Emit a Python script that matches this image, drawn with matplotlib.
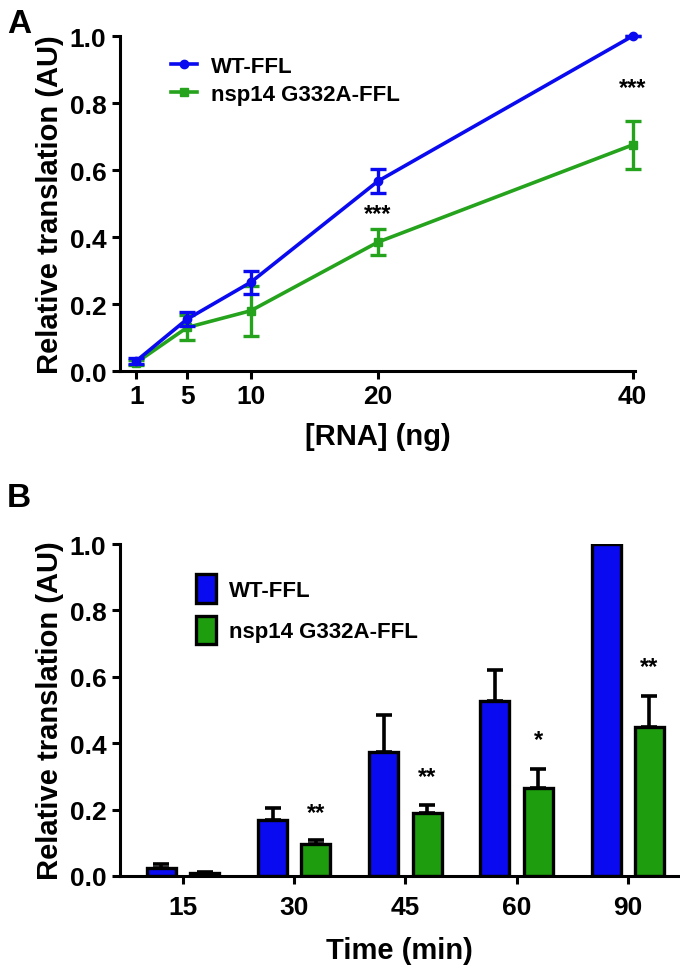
import numpy as np
import matplotlib
matplotlib.use("Agg")
import matplotlib.pyplot as plt
from matplotlib.patches import Patch
from matplotlib.lines import Line2D

plt.rcParams['font.family'] = ['Liberation Sans', 'DejaVu Sans']
plt.rcParams['font.weight'] = 'bold'

# Panel A data
rna_ng = [1, 5, 10, 20, 40]
wt_a = [0.03, 0.155, 0.265, 0.567, 1.0]
wt_a_err = [0.008, 0.02, 0.035, 0.036, 0.0]
mut_a = [0.025, 0.13, 0.18, 0.385, 0.675]
mut_a_err = [0.008, 0.038, 0.075, 0.04, 0.072]
stars_a = {20: (0.47, '***'), 40: (0.845, '***')}

# Panel B data
times = ['15', '30', '45', '60', '90']
wt_b = [0.025, 0.17, 0.372, 0.528, 1.0]
wt_b_err = [0.01, 0.035, 0.113, 0.092, 0.0]
mut_b = [0.01, 0.097, 0.19, 0.265, 0.45]
mut_b_err = [0.003, 0.01, 0.025, 0.057, 0.091]
stars_b = ['', '**', '**', '*', '**']
stars_b_y = [0, 0.19, 0.30, 0.41, 0.63]

blue = '#0a0af0'
green = '#25a31c'
bar_green = '#1e9e0e'

fig = plt.figure(figsize=(6.8, 9.78), dpi=100)

def style(ax):
    for s in ['top', 'right']:
        ax.spines[s].set_visible(False)
    for s in ['left', 'bottom']:
        ax.spines[s].set_linewidth(2.2)
    ax.tick_params(width=2.2, length=6, labelsize=19, direction='out')
    for lab in ax.get_xticklabels() + ax.get_yticklabels():
        lab.set_fontweight('bold')

# ---- A ----
axA = fig.add_axes([0.176, 0.6196, 0.758, 0.3425])
axA.errorbar(rna_ng, wt_a, yerr=wt_a_err, color=blue, lw=2.6, marker='o', ms=6,
             capsize=6, capthick=2.4, elinewidth=2.4, clip_on=False, zorder=3,
             label='WT-FFL')
axA.errorbar(rna_ng, mut_a, yerr=mut_a_err, color=green, lw=2.6, marker='s', ms=6,
             capsize=6, capthick=2.4, elinewidth=2.4, clip_on=False, zorder=2,
             label='nsp14 G332A-FFL')
for x, (y, s) in stars_a.items():
    axA.text(x, y, s, ha='center', va='center', fontsize=17, fontweight='bold')
axA.set_xlim(-0.3, 40.2)
axA.set_ylim(0, 1.0)
axA.set_xticks(rna_ng)
axA.set_yticks([0.0, 0.2, 0.4, 0.6, 0.8, 1.0])
axA.set_yticklabels(['0.0', '0.2', '0.4', '0.6', '0.8', '1.0'])
axA.set_xlabel('[RNA] (ng)', fontsize=21, fontweight='bold', labelpad=10)
axA.set_ylabel('Relative translation (AU)', fontsize=21, fontweight='bold', labelpad=4)
style(axA)
handlesA = [Line2D([0], [0], color=blue, lw=2.6, marker='o', ms=6),
            Line2D([0], [0], color=green, lw=2.6, marker='s', ms=6)]
axA.legend(handlesA, ['WT-FFL', 'nsp14 G332A-FFL'], loc='upper left',
           bbox_to_anchor=(0.06, 1.0), frameon=False, handlelength=1.2,
           handletextpad=0.6, labelspacing=0.3, prop={'size': 16, 'weight': 'bold'})
fig.text(0.01, 0.975, 'A', fontsize=24, fontweight='bold', va='center')

# ---- B ----
axB = fig.add_axes([0.176, 0.1033, 0.824, 0.3394])
x = np.arange(len(times))
off, w = 0.195, 0.26
axB.bar(x - off, wt_b, w, yerr=[np.zeros(len(wt_b)), wt_b_err], color=blue,
        edgecolor='black', linewidth=2.4, capsize=6,
        error_kw={'elinewidth': 2.6, 'capthick': 2.6, 'ecolor': 'black'}, zorder=2)
axB.bar(x + off, mut_b, w, yerr=[np.zeros(len(mut_b)), mut_b_err], color=bar_green,
        edgecolor='black', linewidth=2.4, capsize=6,
        error_kw={'elinewidth': 2.6, 'capthick': 2.6, 'ecolor': 'black'}, zorder=2)
for i, s in enumerate(stars_b):
    if s:
        axB.text(x[i] + off, stars_b_y[i], s, ha='center', va='center',
                 fontsize=17, fontweight='bold')
axB.set_xlim(-0.57, 4.47)
axB.set_ylim(0, 1.0)
axB.set_xticks(x)
axB.set_xticklabels(times)
axB.set_yticks([0.0, 0.2, 0.4, 0.6, 0.8, 1.0])
axB.set_yticklabels(['0.0', '0.2', '0.4', '0.6', '0.8', '1.0'])
axB.set_xlabel('Time (min)', fontsize=21, fontweight='bold', labelpad=12)
axB.set_ylabel('Relative translation (AU)', fontsize=21, fontweight='bold', labelpad=4)
style(axB)
axB.tick_params(axis='x', pad=8)
handlesB = [Patch(facecolor=blue, edgecolor='black', linewidth=2.4),
            Patch(facecolor=bar_green, edgecolor='black', linewidth=2.4)]
axB.legend(handlesB, ['WT-FFL', 'nsp14 G332A-FFL'], loc='upper left',
           bbox_to_anchor=(0.1, 0.97), frameon=False, handlelength=0.9,
           handleheight=1.6, handletextpad=0.6, labelspacing=0.6,
           prop={'size': 16, 'weight': 'bold'})
fig.text(0.01, 0.49, 'B', fontsize=24, fontweight='bold', va='center')

fig.savefig('out.png', dpi=100)
